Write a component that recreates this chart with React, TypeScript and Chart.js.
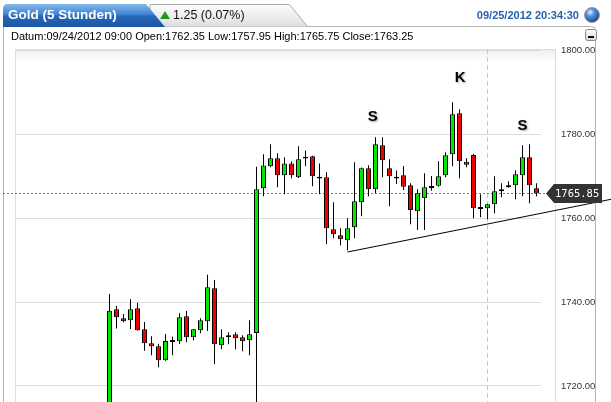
import React, { useEffect, useRef } from 'react';
import { Chart, registerables } from 'chart.js';

Chart.register(...registerables);

// ---- data (5-hour gold candles) ----
const opens = [
  1712.0, 1738.26, 1736.12, 1735.64, 1738.5, 1733.5, 1730.17, 1729.45, 1726.12, 1730.95,
  1730.64, 1736.6, 1731.6, 1733.26, 1735.4, 1743.26, 1729.7, 1732.1, 1732.31, 1731.6,
  1730.88, 1732.62, 1767.07, 1772.3, 1774.2, 1770.17, 1773.0, 1769.7, 1774.6, 1774.69,
  1769.85, 1769.7, 1757.31, 1755.88, 1754.69, 1757.8, 1763.74, 1771.83, 1766.83, 1777.3,
  1771.83, 1769.85, 1770.17, 1767.79, 1761.6, 1764.69, 1767.6, 1767.7, 1770.17, 1775.17,
  1784.93, 1773.4, 1775.0, 1762.6, 1762.31, 1763.26, 1766.36, 1767.31, 1767.79, 1770.17,
  1774.45, 1767.07,
];
const highs = [
  1741.9, 1739.05, 1737.14, 1740.64, 1739.83, 1735.24, 1731.83, 1730.07, 1732.38, 1731.74,
  1737.31, 1737.86, 1733.6, 1736.12, 1746.5, 1745.24, 1733.5, 1732.8, 1732.8, 1732.07,
  1735.64, 1772.2, 1775.17, 1777.55, 1775.4, 1774.45, 1773.5, 1777.07, 1776.1, 1774.8,
  1773.0, 1770.88, 1763.74, 1757.55, 1759.93, 1773.26, 1772.0, 1772.55, 1779.2, 1779.2,
  1773.98, 1771.3, 1772.38, 1768.26, 1766.83, 1770.64, 1770.0, 1773.5, 1775.64, 1787.55,
  1785.88, 1774.2, 1775.3, 1765.64, 1763.4, 1769.93, 1768.26, 1768.74, 1771.36, 1777.31,
  1777.55, 1768.26,
];
const lows = [
  1705.0, 1733.7, 1735.2, 1733.57, 1733.2, 1728.4, 1727.3, 1724.45, 1726.0, 1727.3,
  1730.0, 1730.4, 1730.88, 1732.55, 1733.1, 1725.17, 1728.74, 1729.93, 1728.74, 1728.26,
  1727.3, 1710.0, 1765.17, 1772.1, 1767.3, 1765.64, 1769.45, 1769.5, 1772.3, 1767.55,
  1765.64, 1753.74, 1755.17, 1753.5, 1752.3, 1755.17, 1760.4, 1765.17, 1765.88, 1769.7,
  1762.79, 1768.1, 1766.67, 1758.5, 1757.14, 1757.14, 1766.5, 1767.45, 1769.7, 1772.3,
  1769.45, 1772.07, 1759.93, 1760.17, 1759.69, 1761.12, 1764.93, 1767.2, 1764.45, 1765.17,
  1763.5, 1765.17,
];
const closes = [
  1737.9, 1736.36, 1735.4, 1738.26, 1733.26, 1730.17, 1729.45, 1726.12, 1730.71, 1730.5,
  1736.36, 1731.6, 1733.5, 1735.64, 1743.5, 1729.93, 1731.6, 1731.65, 1731.36, 1730.64,
  1732.31, 1766.83, 1772.5, 1774.2, 1770.17, 1773.0, 1770.17, 1774.0, 1774.15, 1769.93,
  1769.4, 1757.55, 1756.12, 1754.93, 1757.55, 1763.98, 1771.83, 1766.83, 1777.55, 1773.74,
  1769.93, 1769.4, 1767.45, 1761.9, 1765.88, 1767.31, 1767.15, 1769.93, 1774.93, 1784.69,
  1773.5, 1772.7, 1762.31, 1762.15, 1763.26, 1766.36, 1766.83, 1767.79, 1770.4, 1774.45,
  1767.79, 1765.85,
];

const yTicks = [1720, 1740, 1760, 1780, 1800];
const lastPrice = 1765.85;
const trendX = [34, 71.7];
const trendY = [1751.9, 1764.47];
const sessionBreakIndex = 54;
const annotationLabels = ['S', 'K', 'S'];
const annotationX = [37.6, 50.1, 59.0];
const annotationY = [1784.0, 1793.3, 1781.9];

const titleText = 'Gold (5 Stunden)';
const changeText = '1.25 (0.07%)';
const timestampText = '09/25/2012 20:34:30';
const infoText = 'Datum:09/24/2012 09:00 Open:1762.35 Low:1757.95 High:1765.75 Close:1763.25';

const GREEN = '#00e800';
const RED = '#ee0000';

export default function App() {
  const canvasRef = useRef<HTMLCanvasElement | null>(null);

  useEffect(() => {
    const canvas = canvasRef.current;
    if (!canvas) return;
    const idx = opens.map((_, i) => i);

    const decor = {
      id: 'decor',
      beforeDatasetsDraw(chart: any) {
        const { ctx, chartArea, scales } = chart;
        const x = scales.x;
        const y = scales.y;
        ctx.save();
        const sx = Math.floor(x.getPixelForValue(sessionBreakIndex)) + 0.5;
        ctx.strokeStyle = '#c8c8c8';
        ctx.lineWidth = 1;
        ctx.setLineDash([5, 3]);
        ctx.beginPath();
        ctx.moveTo(sx, chartArea.top);
        ctx.lineTo(sx, chartArea.bottom);
        ctx.stroke();
        const py = Math.floor(y.getPixelForValue(lastPrice)) + 0.5;
        ctx.strokeStyle = '#777';
        ctx.setLineDash([2, 2]);
        ctx.beginPath();
        ctx.moveTo(3, py);
        ctx.lineTo(546, py);
        ctx.stroke();
        ctx.restore();
      },
      afterDatasetsDraw(chart: any) {
        const { ctx, scales } = chart;
        const x = scales.x;
        const y = scales.y;
        ctx.save();
        ctx.font = 'bold 15px "Liberation Sans", Arial, sans-serif';
        ctx.textAlign = 'center';
        ctx.textBaseline = 'middle';
        ctx.fillStyle = '#000';
        ctx.shadowColor = 'rgba(0,0,0,0.35)';
        ctx.shadowBlur = 2;
        ctx.shadowOffsetX = 1;
        ctx.shadowOffsetY = 1;
        annotationLabels.forEach((t, i) => {
          ctx.fillText(t, x.getPixelForValue(annotationX[i]), y.getPixelForValue(annotationY[i]));
        });
        ctx.restore();
      },
      afterDraw(chart: any) {
        const { ctx, scales } = chart;
        const y = scales.y;
        const py = Math.floor(y.getPixelForValue(lastPrice)) + 0.5;
        ctx.save();
        ctx.fillStyle = '#333333';
        ctx.beginPath();
        ctx.moveTo(546, py);
        ctx.lineTo(554, py - 9.5);
        ctx.lineTo(602, py - 9.5);
        ctx.lineTo(602, py + 9.5);
        ctx.lineTo(554, py + 9.5);
        ctx.closePath();
        ctx.fill();
        ctx.fillStyle = '#ffffff';
        ctx.font = '10.5px "DejaVu Sans Mono", monospace';
        ctx.textAlign = 'left';
        ctx.textBaseline = 'middle';
        ctx.fillText(lastPrice.toFixed(2), 555, py + 0.5);
        ctx.restore();
      },
    };

    const chart = new Chart(canvas, {
      type: 'bar',
      data: {
        datasets: [
          {
            type: 'bar',
            label: 'Körper',
            data: idx.map((i) => ({ x: i, y: [opens[i], closes[i]] })) as any,
            backgroundColor: idx.map((i) => (closes[i] >= opens[i] ? GREEN : RED)),
            borderColor: '#000',
            borderWidth: 1,
            borderSkipped: false,
            barThickness: 5,
            grouped: false,
            inflateAmount: 0,
            order: 1,
          } as any,
          {
            type: 'bar',
            label: 'Docht',
            data: idx.map((i) => ({ x: i, y: [lows[i], highs[i]] })) as any,
            backgroundColor: '#000',
            borderWidth: 0,
            barThickness: 1,
            grouped: false,
            inflateAmount: 0,
            order: 2,
          } as any,
          {
            type: 'line',
            label: 'Trend',
            data: trendX.map((v, i) => ({ x: v, y: trendY[i] })) as any,
            borderColor: '#000',
            borderWidth: 1,
            pointRadius: 0,
            tension: 0,
            clip: false as any,
            order: 0,
          } as any,
        ],
      },
      options: {
        animation: false,
        responsive: false,
        events: [],
        layout: { padding: { left: 15, top: 49, right: 0, bottom: 0 } },
        plugins: { legend: { display: false }, tooltip: { enabled: false } },
        scales: {
          x: {
            type: 'linear',
            min: -13.5,
            max: 61.64,
            offset: false,
            display: false,
            grid: { display: false },
          },
          y: {
            type: 'linear',
            position: 'right',
            min: 1716.19,
            max: 1800.24,
            beginAtZero: false,
            afterBuildTicks: (s: any) => {
              s.ticks = yTicks.map((v) => ({ value: v }));
            },
            afterFit: (s: any) => {
              s.width = 70;
              s.paddingTop = 0;
              s.paddingBottom = 0;
            },
            grid: { color: '#dcdcdc', drawTicks: false, lineWidth: 1 },
            border: { display: false },
            ticks: {
              padding: 20,
              crossAlign: 'near',
              color: '#333',
              font: { family: '"Liberation Sans", Arial, sans-serif', size: 9.5 },
              callback: (v: any) => Number(v).toFixed(2),
            },
          } as any,
        },
      },
      plugins: [decor],
    });
    return () => chart.destroy();
  }, []);

  const font = '"Liberation Sans", Arial, sans-serif';
  return (
    <div
      style={{
        position: 'absolute',
        left: 0,
        top: 0,
        width: 611,
        height: 402,
        overflow: 'hidden',
        background: '#fff',
        fontFamily: font,
      }}
    >
      <svg width={611} height={402} style={{ position: 'absolute', left: 0, top: 0 }}>
        <defs>
          <linearGradient id="blueTab" x1="0" y1="0" x2="0" y2="1">
            <stop offset="0" stopColor="#86b9ef" />
            <stop offset="0.45" stopColor="#3f84d3" />
            <stop offset="0.52" stopColor="#2868b9" />
            <stop offset="1" stopColor="#1a56a3" />
          </linearGradient>
          <linearGradient id="grayTab" x1="0" y1="0" x2="0" y2="1">
            <stop offset="0" stopColor="#fdfdfd" />
            <stop offset="1" stopColor="#dedede" />
          </linearGradient>
          <linearGradient id="btn" x1="0" y1="0" x2="0" y2="1">
            <stop offset="0" stopColor="#ffffff" />
            <stop offset="1" stopColor="#d6d6d6" />
          </linearGradient>
          <radialGradient id="sphere" cx="0.38" cy="0.32" r="0.7">
            <stop offset="0" stopColor="#e8f1ff" />
            <stop offset="0.35" stopColor="#5a97e2" />
            <stop offset="1" stopColor="#13448e" />
          </radialGradient>
          <linearGradient id="shade" x1="0" y1="0" x2="0" y2="1">
            <stop offset="0" stopColor="#f0f0f0" />
            <stop offset="1" stopColor="#ffffff" />
          </linearGradient>
        </defs>
        <path d="M3.5 402 V26.5 H591.5 Q595.5 26.5 595.5 30.5 V402" fill="none" stroke="#b4b4b4" />
        <path d="M150 26.5 V4.5 H289.5 L307.5 26.5" fill="url(#grayTab)" stroke="#a9a9a9" />
        <path d="M3 27 V9 Q3 4 8 4 H146 L165 27 Z" fill="url(#blueTab)" />
        <polygon points="160,19 165,11 170,19" fill="#1f9a1f" />
        <rect x="15.5" y="49.5" width="540" height="400" fill="#fff" stroke="#dedede" />
        <rect x="16" y="50" width="539" height="12" fill="url(#shade)" />
        <circle cx="592" cy="15" r="7.5" fill="url(#sphere)" stroke="#9a9a9a" strokeWidth="1" />
        <rect x="585.5" y="29.5" width="11" height="11" rx="2" fill="url(#btn)" stroke="#8a8a8a" />
        <rect x="588" y="36" width="6" height="2" fill="#111" />
      </svg>
      <canvas
        ref={canvasRef}
        width={611}
        height={402}
        style={{ position: 'absolute', left: 0, top: 0, width: 611, height: 402 }}
      />
      <div
        style={{
          position: 'absolute',
          left: 8,
          top: 6,
          height: 18,
          lineHeight: '18px',
          fontSize: 13.5,
          fontWeight: 'bold',
          color: '#fff',
          whiteSpace: 'nowrap',
        }}
      >
        {titleText}
      </div>
      <div
        style={{
          position: 'absolute',
          left: 173,
          top: 6,
          height: 18,
          lineHeight: '18px',
          fontSize: 12.5,
          color: '#111',
          whiteSpace: 'nowrap',
        }}
      >
        {changeText}
      </div>
      <div
        style={{
          position: 'absolute',
          right: 32,
          top: 7,
          height: 16,
          lineHeight: '16px',
          fontSize: 11,
          fontWeight: 'bold',
          color: '#2463ad',
          whiteSpace: 'nowrap',
        }}
      >
        {timestampText}
      </div>
      <div
        style={{
          position: 'absolute',
          left: 11,
          top: 28,
          height: 16,
          lineHeight: '16px',
          fontSize: 11,
          color: '#000',
          whiteSpace: 'nowrap',
        }}
      >
        {infoText}
      </div>
    </div>
  );
}
